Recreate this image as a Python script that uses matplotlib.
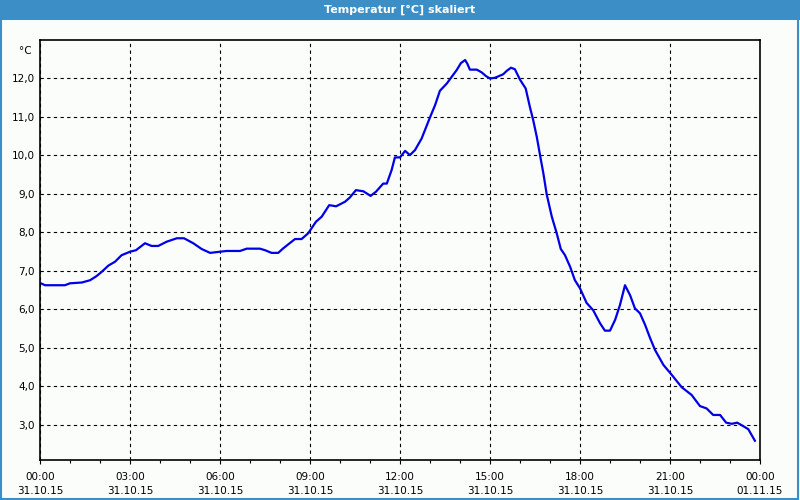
import matplotlib
matplotlib.use("Agg")
import matplotlib.pyplot as plt
from matplotlib.ticker import MultipleLocator, FuncFormatter
from matplotlib.patches import Rectangle

# Stunden ab 31.10.15 00:00 und Temperatur in °C
stunden = [0.0, 0.17, 0.5, 0.83, 1.0, 1.39, 1.67, 1.89, 2.06, 2.28, 2.5, 2.72, 3.0, 3.2,
           3.5, 3.72, 3.94, 4.22, 4.56, 4.8, 5.11, 5.39, 5.67, 6.0, 6.22, 6.67, 6.89,
           7.33, 7.5, 7.72, 7.94, 8.11, 8.5, 8.72, 8.94, 9.2, 9.39, 9.64, 9.87, 10.17,
           10.33, 10.53, 10.78, 11.02, 11.2, 11.44, 11.56, 11.72, 11.83, 12.0, 12.17,
           12.33, 12.5, 12.72, 13.0, 13.17, 13.33, 13.56, 13.72, 13.89, 14.03, 14.17,
           14.24, 14.33, 14.56, 14.72, 14.87, 15.0, 15.17, 15.44, 15.56, 15.7, 15.83,
           16.0, 16.19, 16.33, 16.44, 16.56, 16.67, 16.78, 16.89, 17.06, 17.22, 17.36,
           17.5, 17.67, 17.83, 18.0, 18.22, 18.44, 18.67, 18.83, 19.0, 19.17, 19.33,
           19.5, 19.67, 19.83, 20.0, 20.17, 20.33, 20.5, 20.78, 21.06, 21.39, 21.72,
           22.0, 22.22, 22.44, 22.67, 22.87, 23.06, 23.24, 23.44, 23.61, 23.72, 23.83]
temperatur = [6.69, 6.63, 6.63, 6.63, 6.68, 6.70, 6.76, 6.87, 6.98, 7.14, 7.24, 7.41, 7.50, 7.54,
              7.72, 7.65, 7.65, 7.76, 7.85, 7.85, 7.72, 7.57, 7.47, 7.50, 7.52, 7.52, 7.58,
              7.58, 7.54, 7.47, 7.47, 7.59, 7.83, 7.83, 7.98, 8.28, 8.41, 8.71, 8.68, 8.80,
              8.91, 9.10, 9.07, 8.95, 9.06, 9.27, 9.27, 9.62, 9.95, 9.95, 10.12,
              10.01, 10.14, 10.44, 10.99, 11.31, 11.68, 11.87, 12.04, 12.22, 12.40, 12.48,
              12.39, 12.23, 12.23, 12.16, 12.06, 12.0, 12.02, 12.11, 12.20, 12.28, 12.24,
              11.97, 11.74, 11.26, 10.92, 10.48, 10.0, 9.53, 8.99, 8.41, 7.99, 7.57,
              7.41, 7.11, 6.76, 6.55, 6.17, 5.98, 5.64, 5.45, 5.45, 5.73, 6.11,
              6.63, 6.37, 6.03, 5.90, 5.60, 5.27, 4.95, 4.56, 4.30, 3.98, 3.78,
              3.49, 3.43, 3.26, 3.26, 3.06, 3.03, 3.06, 2.97, 2.89, 2.74, 2.59]

x_ticks = [0, 3, 6, 9, 12, 15, 18, 21, 24]
x_labels = ["00:00\n31.10.15", "03:00\n31.10.15", "06:00\n31.10.15", "09:00\n31.10.15",
            "12:00\n31.10.15", "15:00\n31.10.15", "18:00\n31.10.15", "21:00\n31.10.15",
            "00:00\n01.11.15"]
y_ticks = [3, 4, 5, 6, 7, 8, 9, 10, 11, 12]

hintergrund = "#fbfdfb"
rahmen = "#3c8fc6"

fig = plt.figure(figsize=(8, 5), dpi=100, facecolor=hintergrund)
ax = fig.add_axes([0.05, 0.08, 0.90, 0.84], facecolor=hintergrund)

ax.plot(stunden, temperatur, color="#0000e6", linewidth=1.6)

ax.set_xlim(0, 24)
ax.set_ylim(2.09, 13.0)
ax.set_xticks(x_ticks)
ax.set_xticklabels(x_labels, fontsize=7.5, linespacing=1.5)
ax.xaxis.set_minor_locator(MultipleLocator(1))
ax.set_yticks(y_ticks)
ax.yaxis.set_major_formatter(FuncFormatter(lambda v, p: ("%.1f" % v).replace(".", ",")))
ax.tick_params(axis="y", length=0, labelsize=7.5, pad=4)
ax.tick_params(axis="x", which="major", length=3, width=0.8, pad=6)
ax.tick_params(axis="x", which="minor", length=2.5, width=0.8)

ax.grid(True, color="black", linestyle=(0, (3, 3)), linewidth=0.8)
for s in ax.spines.values():
    s.set_linewidth(1.2)
    s.set_color("black")

ax.text(-0.012, 0.985, "°C", transform=ax.transAxes, ha="right", va="top", fontsize=7.5)

# Titelleiste und Rahmen
fig.patches.append(Rectangle((0, 0.96), 1, 0.04, transform=fig.transFigure,
                             facecolor=rahmen, edgecolor="none"))
fig.patches.append(Rectangle((0.001, 0.002), 0.997, 0.996, transform=fig.transFigure,
                             facecolor="none", edgecolor=rahmen, linewidth=1.5))
fig.text(0.5, 0.98, "Temperatur [°C] skaliert", ha="center", va="center",
         color="white", fontsize=8, fontweight="bold")

fig.savefig("out.png", dpi=100, facecolor=hintergrund)
